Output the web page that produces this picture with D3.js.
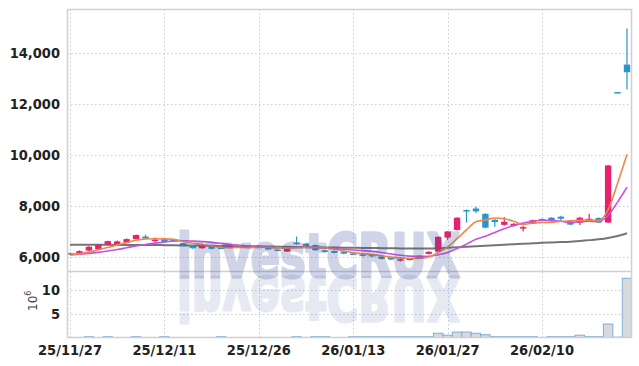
<!DOCTYPE html>
<html>
<head>
<meta charset="utf-8">
<script src="https://cdn.jsdelivr.net/npm/d3@7"></script>
<style>
  body { margin: 0; background: #fff; }
  .tick-label { font-family: "Liberation Sans Narrow", "DejaVu Sans Condensed", sans-serif; font-weight: bold; font-size: 14.5px; fill: #222; }
</style>
</head>
<body>
<svg id="chart" width="639" height="366"></svg>
<script>
// trading days shown on the chart
const dates = ["25/11/27","25/11/28","25/12/01","25/12/02","25/12/03","25/12/04","25/12/05","25/12/08","25/12/09","25/12/10",
  "25/12/11","25/12/12","25/12/15","25/12/16","25/12/17","25/12/18","25/12/19","25/12/22","25/12/23","25/12/24",
  "25/12/26","25/12/29","25/12/30","26/01/02","26/01/05","26/01/06","26/01/07","26/01/08","26/01/09","26/01/12",
  "26/01/13","26/01/14","26/01/15","26/01/16","26/01/19","26/01/20","26/01/21","26/01/22","26/01/23","26/01/26",
  "26/01/27","26/01/28","26/01/29","26/01/30","26/02/02","26/02/03","26/02/04","26/02/05","26/02/06","26/02/09",
  "26/02/10","26/02/11","26/02/12","26/02/13","26/02/19","26/02/20","26/02/23","26/02/24","26/02/25","26/02/26"];

const opens = [6150,6150,6250,6310,6480,6490,6550,6700,6800,6660,
  6700,6690,6540,6430,6340,6420,6370,6350,6380,6390,
  6400,6350,6290,6210,6560,6520,6470,6260,6230,6210,
  6140,6100,6080,6020,5980,5890,5880,5960,6120,6210,
  6760,7060,7840,7900,7690,7460,7260,7220,7150,7310,
  7490,7540,7580,7420,7340,7420,7530,7350,12470,13550];
const highs = [6170,6260,6420,6500,6640,6650,6720,6880,6880,6760,
  6720,6710,6560,6450,6450,6440,6390,6430,6420,6410,
  6420,6370,6350,6390,6800,6540,6490,6280,6250,6230,
  6160,6120,6100,6040,6000,5980,5960,6070,6220,6800,
  7020,7560,7860,7970,7710,7480,7570,7330,7220,7460,
  7510,7560,7620,7440,7580,7700,7550,9610,12470,14970];
const lows = [6090,6140,6230,6290,6460,6470,6540,6690,6700,6580,
  6570,6590,6440,6320,6320,6300,6290,6340,6370,6370,
  6370,6290,6250,6200,6480,6410,6240,6180,6140,6110,
  6080,6020,6000,5900,5880,5820,5860,5940,6100,6200,
  6670,7040,7350,7720,7130,7180,7220,7180,7000,7290,
  7440,7400,7420,7250,7250,7400,7330,7330,12450,12570];
const closes = [6110,6230,6400,6480,6620,6610,6700,6860,6720,6680,
  6590,6610,6460,6340,6430,6320,6310,6410,6410,6400,
  6380,6300,6270,6370,6510,6430,6260,6200,6160,6130,
  6100,6040,6020,5920,5900,5910,5940,6050,6200,6790,
  7000,7540,7790,7790,7150,7370,7380,7300,7170,7440,
  7460,7420,7500,7270,7540,7500,7350,9590,12450,13250];

// volume, millions of shares
const volumes = [0.1,0.1,0.4,0.1,0.4,0.1,0.1,0.4,0.1,0.1,
  0.4,0.1,0.1,0.1,0.1,0.1,0.4,0.1,0.1,0.1,
  0.1,0.1,0.1,0.1,0.4,0.1,0.4,0.4,0.1,0.1,
  0.4,0.4,0.4,0.4,0.4,0.4,0.4,0.4,0.4,1.1,
  0.7,1.35,1.35,1.1,0.8,0.4,0.4,0.4,0.4,0.4,
  0.1,0.4,0.4,0.4,0.7,0.4,0.4,3.0,0.3,12.4];

// moving averages
const ma5 = [6090,6130,6190,6280,6368,6468,6562,6654,6702,6714,
  6710,6692,6612,6536,6486,6432,6372,6362,6376,6370,
  6382,6380,6352,6344,6366,6376,6368,6354,6312,6236,
  6170,6126,6090,6042,5996,5958,5938,5944,6000,6178,
  6396,6716,7064,7382,7454,7528,7496,7398,7274,7332,
  7350,7358,7398,7418,7438,7446,7432,7850,8888,10030];
const ma10 = [6080,6110,6140,6180,6230,6290,6360,6430,6490,6541,
  6589,6627,6633,6619,6600,6571,6532,6487,6456,6428,
  6407,6376,6357,6360,6368,6379,6374,6353,6328,6301,
  6273,6247,6222,6177,6116,6064,6032,6017,6021,6087,
  6177,6327,6504,6691,6816,6962,7106,7231,7328,7393,
  7439,7427,7398,7346,7385,7398,7395,7624,8153,8734];
const maLong = [6480,6480,6480,6475,6475,6470,6470,6470,6470,6470,
  6460,6455,6450,6445,6440,6435,6430,6425,6420,6420,
  6415,6410,6400,6395,6390,6385,6380,6375,6370,6365,
  6360,6355,6350,6345,6340,6335,6330,6330,6330,6340,
  6360,6380,6400,6420,6440,6460,6480,6500,6515,6535,
  6555,6570,6585,6600,6630,6660,6690,6740,6820,6930];

const priceTicks = [6000, 8000, 10000, 12000, 14000];
const volTicks = [5, 10];
const dateTicks = ["25/11/27","25/12/11","25/12/26","26/01/13","26/01/27","26/02/10"];

const left = 67, right = 631;
const priceTop = 9, priceBottom = 271;
const volTop = 272, volBottom = 337;

const svg = d3.select("#chart");
const gridColor = "#c5cbe0";
const upColor = "#e8206e", downColor = "#2a95c8";

let x = d3.scalePoint().domain(dates).range([70, 627]);
let y = d3.scaleLinear().domain([5448, 15732]).range([priceBottom, priceTop]);
let yv = d3.scaleLinear().domain([0, 13.7]).range([338.6, volTop]);

svg.append("clipPath").attr("id", "clipPrice")
  .append("rect").attr("x", left).attr("y", priceTop).attr("width", right - left).attr("height", priceBottom - priceTop);
svg.append("clipPath").attr("id", "clipVol")
  .append("rect").attr("x", left).attr("y", volTop).attr("width", right - left).attr("height", volBottom - volTop);

// grid
let grid = svg.append("g");
grid.selectAll(".hp").data(priceTicks).enter().append("line")
  .attr("x1", left).attr("x2", right)
  .attr("y1", d => y(d) + 0.5).attr("y2", d => y(d) + 0.5)
  .attr("stroke", gridColor).attr("stroke-dasharray", "1.5,2.5");
grid.selectAll(".hv").data(volTicks).enter().append("line")
  .attr("x1", left).attr("x2", right)
  .attr("y1", d => Math.round(yv(d)) + 0.5).attr("y2", d => Math.round(yv(d)) + 0.5)
  .attr("stroke", gridColor).attr("stroke-dasharray", "1.5,2.5");
[[priceTop, priceBottom], [volTop, volBottom]].forEach(function (r) {
  grid.selectAll(null).data(dateTicks).enter().append("line")
    .attr("x1", d => Math.round(x(d)) + 0.5).attr("x2", d => Math.round(x(d)) + 0.5)
    .attr("y1", r[0]).attr("y2", r[1])
    .attr("stroke", gridColor).attr("stroke-dasharray", "1.5,2.5");
});

// volume bars
let bw = x.step();
svg.append("g").attr("clip-path", "url(#clipVol)")
  .selectAll("rect").data(volumes).enter().append("rect")
  .attr("x", (d, i) => x(dates[i]) - bw / 2)
  .attr("y", d => yv(d))
  .attr("width", bw)
  .attr("height", d => yv(0) - yv(d))
  .attr("fill", "#d8d9de")
  .attr("stroke", "#7eafd8")
  .attr("stroke-width", 1);

// moving average lines
let pg = svg.append("g").attr("clip-path", "url(#clipPrice)");
function maLine(values, color, w) {
  let line = d3.line()
    .x((d, i) => x(dates[i]))
    .y(d => y(d))
    .curve(d3.curveMonotoneX);
  pg.append("path").datum(values)
    .attr("d", line)
    .attr("fill", "none")
    .attr("stroke", color)
    .attr("stroke-width", w);
}
maLine(maLong, "#757575", 2);

// candles
let candles = pg.selectAll(".candle").data(dates).enter().append("g");
candles.append("line")
  .attr("x1", d => x(d)).attr("x2", d => x(d))
  .attr("y1", (d, i) => y(highs[i])).attr("y2", (d, i) => y(lows[i]))
  .attr("stroke", (d, i) => closes[i] >= opens[i] ? upColor : downColor)
  .attr("stroke-width", 1.2);
candles.append("rect")
  .attr("x", d => x(d) - 3.2)
  .attr("width", 6.4)
  .attr("y", (d, i) => y(Math.max(opens[i], closes[i])))
  .attr("height", (d, i) => Math.max(1.5, Math.abs(y(opens[i]) - y(closes[i]))))
  .attr("fill", (d, i) => closes[i] >= opens[i] ? upColor : downColor);

maLine(ma10, "#c553e3", 1.6);
maLine(ma5, "#ee8748", 1.6);

// frame
svg.append("path")
  .attr("d", `M${left + 0.5},${priceTop}V${volBottom + 0.5}H${right + 0.5}V${priceTop + 0.5}H${left}`)
  .attr("fill", "none").attr("stroke", "#cfcfd4").attr("stroke-width", 1.5);
svg.append("line").attr("x1", left).attr("x2", right).attr("y1", volTop - 0.5).attr("y2", volTop - 0.5)
  .attr("stroke", "#cfcfd4").attr("stroke-width", 1.5);

// watermark with reflection, drawn heavy and see-through on top
function watermark(opacity, transform) {
  let g = svg.append("g").attr("opacity", opacity).attr("pointer-events", "none");
  if (transform) g.attr("transform", transform);
  g.append("text")
    .attr("x", 177).attr("y", 277)
    .attr("textLength", 283).attr("lengthAdjust", "spacingAndGlyphs")
    .style("font-family", "DejaVu Sans").style("font-weight", "bold").style("font-size", "61px")
    .attr("fill", "#3a4f9a").attr("stroke", "#3a4f9a").attr("stroke-width", 3).attr("stroke-linejoin", "round")
    .text("investCRUX");
}
watermark(0.24, null);
watermark(0.12, "translate(0,554) scale(1,-1)");

// axis labels
svg.selectAll(".py").data(priceTicks).enter().append("text")
  .attr("class", "tick-label")
  .attr("x", 60).attr("y", d => y(d)).attr("dy", "0.35em")
  .attr("text-anchor", "end")
  .text(d => d3.format(",")(d));
svg.selectAll(".vy").data(volTicks).enter().append("text")
  .attr("class", "tick-label")
  .attr("x", 60).attr("y", d => yv(d)).attr("dy", "0.35em")
  .attr("text-anchor", "end")
  .text(d => d);
svg.selectAll(".dx").data(dateTicks).enter().append("text")
  .attr("class", "tick-label")
  .attr("x", d => x(d)).attr("y", 355)
  .attr("text-anchor", "middle")
  .text(d => d);

let unit = svg.append("text")
  .attr("transform", "translate(37,311) rotate(-90)")
  .style("font-family", "DejaVu Sans").style("font-size", "12px").attr("fill", "#444");
unit.append("tspan").text("10");
unit.append("tspan").attr("dy", -6).style("font-size", "8px").text("6");
</script>
</body>
</html>
